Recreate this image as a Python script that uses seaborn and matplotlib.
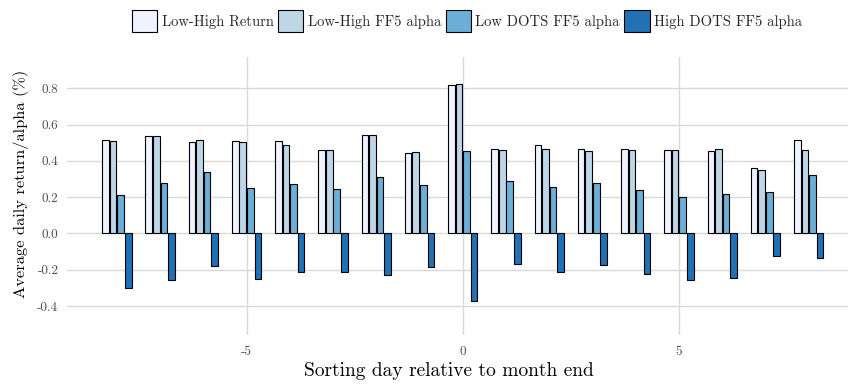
import numpy as np
import pandas as pd
import matplotlib
matplotlib.use("Agg")
import matplotlib.pyplot as plt
import seaborn as sns

# Sorting day relative to month end
days = [-8, -7, -6, -5, -4, -3, -2, -1, 0, 1, 2, 3, 4, 5, 6, 7, 8]

series_names = ["Low-High Return", "Low-High FF5 alpha",
                "Low DOTS FF5 alpha", "High DOTS FF5 alpha"]

low_high_return = [0.515, 0.539, 0.502, 0.509, 0.508, 0.460, 0.544, 0.443, 0.817,
                   0.463, 0.489, 0.467, 0.465, 0.458, 0.452, 0.359, 0.515]
low_high_ff5 = [0.509, 0.535, 0.515, 0.504, 0.486, 0.460, 0.541, 0.451, 0.824,
                0.458, 0.465, 0.456, 0.458, 0.458, 0.467, 0.351, 0.458]
low_dots_ff5 = [0.211, 0.278, 0.337, 0.252, 0.270, 0.245, 0.313, 0.267, 0.452,
                0.287, 0.256, 0.280, 0.237, 0.202, 0.219, 0.226, 0.320]
high_dots_ff5 = [-0.300, -0.259, -0.178, -0.254, -0.215, -0.215, -0.230, -0.184, -0.370,
                 -0.167, -0.210, -0.175, -0.221, -0.257, -0.248, -0.125, -0.136]

colors = ["#eff3ff", "#bdd7e7", "#6baed6", "#2171b5"]

df = pd.DataFrame({
    "day": days * 4,
    "value": low_high_return + low_high_ff5 + low_dots_ff5 + high_dots_ff5,
    "series": [s for s in series_names for _ in days],
})

sns.set_style("white")
plt.rcParams["font.family"] = ["cmr10", "DejaVu Serif"]
plt.rcParams["axes.unicode_minus"] = False
plt.rcParams["axes.formatter.use_mathtext"] = False

fig = plt.figure(figsize=(8.48, 3.86), dpi=100)
ax_bottom, ax_top = 335.0, 57.3
ax = fig.add_axes([66.7 / 848, (386 - ax_bottom) / 386, 1 - 66.7 / 848,
                   (ax_bottom - ax_top) / 386])

sns.barplot(data=df, x="day", y="value", hue="series", hue_order=series_names,
            palette=colors, saturation=1, native_scale=True, width=0.7, gap=0.12,
            edgecolor="black", linewidth=0.8, errorbar=None, ax=ax, zorder=3)

ax.set_xlim(-9.16, 8.91)
ax.set_ylim(-0.56, 0.971)
ax.set_xticks([-5, 0, 5])
ax.set_xticklabels(["-5", "0", "5"])
ax.set_yticks([-0.4, -0.2, 0.0, 0.2, 0.4, 0.6, 0.8])
ax.set_yticklabels(["-0.4", "-0.2", "0.0", "0.2", "0.4", "0.6", "0.8"])

ax.grid(True, color="#d9d9d9", linewidth=1.0, zorder=0)
ax.set_axisbelow(True)
for sp in ax.spines.values():
    sp.set_visible(False)

ax.tick_params(axis="both", which="major", length=3.5, width=0.9, color="#333333",
               labelcolor="#4d4d4d", labelsize=9.5, direction="out")
ax.tick_params(axis="x", pad=4)
ax.tick_params(axis="y", pad=2.5)

ax.set_xlabel("Sorting day relative to month end", fontsize=14, color="black")
ax.set_ylabel("Average daily return/alpha (%)", fontsize=11.8, color="black")
ax.xaxis.set_label_coords((449 - 66.7) / (848 - 66.7), -(371 - ax_bottom) / (ax_bottom - ax_top))
ax.yaxis.set_label_coords(-(66.7 - 21) / (848 - 66.7), (ax_bottom - 184) / (ax_bottom - ax_top))
ax.xaxis.label.set_verticalalignment("center")
ax.yaxis.label.set_verticalalignment("center")

handles, labels = ax.get_legend_handles_labels()
ax.get_legend().remove()
fig.legend(handles, labels, loc="upper center", bbox_to_anchor=(467 / 848, 1.0),
           ncol=4, frameon=False, fontsize=10.5, handlelength=1.75, handleheight=1.95,
           handletextpad=0.3, columnspacing=0.3, borderaxespad=0.3)

fig.savefig("out.png", dpi=100)
